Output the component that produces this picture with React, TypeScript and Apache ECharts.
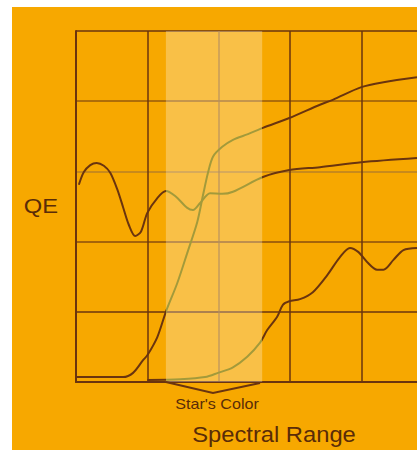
import React, { useEffect, useRef } from "react";
import * as echarts from "echarts";

// Spectral axis (grid units) and QE axis (grid units)
const xMax = 4.78;
const yMax = 5;

// Highlighted "Star's Color" band on the spectral axis
const bandRange: [number, number] = [1.26, 2.61];

// Upper curve
const curveA: [number, number][] = [
  [0, 0.07], [0.66, 0.07], [0.8, 0.13], [0.94, 0.31], [1.0, 0.38], [1.14, 0.64],
  [1.26, 1.0], [1.42, 1.41], [1.56, 1.84], [1.7, 2.28], [1.78, 2.66], [1.85, 2.98],
  [1.92, 3.21], [2.05, 3.35], [2.2, 3.45], [2.41, 3.53], [2.62, 3.62], [2.99, 3.76],
  [3.42, 3.95], [3.6, 4.02], [4.0, 4.2], [4.31, 4.27], [4.78, 4.34],
];

// Middle (wavy) curve
const curveB: [number, number][] = [
  [0.04, 2.81], [0.11, 2.99], [0.2, 3.09], [0.29, 3.12], [0.39, 3.08], [0.48, 2.98],
  [0.58, 2.74], [0.66, 2.49], [0.74, 2.24], [0.83, 2.08], [0.91, 2.14], [1.0, 2.41],
  [1.14, 2.62], [1.26, 2.72], [1.39, 2.65], [1.56, 2.48], [1.64, 2.45], [1.74, 2.55],
  [1.88, 2.69], [2.05, 2.68], [2.2, 2.71], [2.62, 2.92], [2.99, 3.02], [3.42, 3.06],
  [4.0, 3.13], [4.78, 3.19],
];

// Lower curve
const curveC: [number, number][] = [
  [1.0, 0.03], [1.46, 0.04], [1.81, 0.07], [1.99, 0.13], [2.2, 0.21], [2.4, 0.36],
  [2.58, 0.56], [2.68, 0.74], [2.82, 0.93], [2.9, 1.1], [2.99, 1.15], [3.14, 1.18],
  [3.32, 1.28], [3.52, 1.52], [3.7, 1.78], [3.84, 1.91], [3.96, 1.85], [4.08, 1.71],
  [4.22, 1.6], [4.31, 1.6], [4.45, 1.74], [4.59, 1.88], [4.78, 1.91],
];

const yLabel = "QE";
const xLabel = "Spectral Range";
const bandLabel = "Star's Color";

const BG = "#F7A800";
const DARK = "#6A340E";
const TEXT = "#5A2C08";
const IN_BAND = "#A39A3A";

export default function App() {
  const ref = useRef<HTMLDivElement>(null);

  useEffect(() => {
    if (!ref.current) return;
    const chart = echarts.init(ref.current, undefined, { renderer: "svg" });

    const lineSeries = (data: [number, number][], name: string, extra: any = {}) => ({
      type: "line",
      name,
      data,
      showSymbol: false,
      smooth: 0.3,
      lineStyle: { width: 2 },
      z: 3,
      ...extra,
    });

    chart.setOption({
      animation: false,
      backgroundColor: BG,
      grid: { left: 64, top: 24, right: 0, bottom: 68, containLabel: false },
      xAxis: {
        type: "value",
        min: 0,
        max: xMax,
        interval: 1,
        axisLabel: { show: false },
        axisTick: { show: false },
        axisLine: { show: true, lineStyle: { color: DARK, width: 2 } },
        splitLine: {
          show: true,
          showMaxLine: false,
          lineStyle: {
            width: 1.5,
            color: [DARK, DARK, "rgba(150,100,40,0.75)", DARK, DARK],
          },
        },
      },
      yAxis: {
        type: "value",
        min: 0,
        max: yMax,
        interval: 1,
        axisLabel: { show: false },
        axisTick: { show: false },
        axisLine: { show: true, lineStyle: { color: DARK, width: 2 } },
        splitLine: {
          show: true,
          lineStyle: {
            width: 1.5,
            color: [
              DARK,
              DARK,
              "rgba(110,56,16,0.8)",
              "rgba(140,100,60,0.6)",
              "rgba(110,56,16,0.7)",
              DARK,
            ],
          },
        },
      },
      visualMap: {
        show: false,
        type: "piecewise",
        dimension: 0,
        seriesIndex: [0, 1, 2],
        pieces: [
          { lt: bandRange[0], color: DARK },
          { gte: bandRange[0], lte: bandRange[1], color: IN_BAND },
          { gt: bandRange[1], color: DARK },
        ],
      },
      series: [
        lineSeries(curveA, "A", {
          markArea: {
            silent: true,
            itemStyle: { color: "rgba(255,255,255,0.28)" },
            data: [[{ xAxis: bandRange[0] }, { xAxis: bandRange[1] }]],
          },
        }),
        lineSeries(curveB, "B"),
        lineSeries(curveC, "C"),
      ],
    });

    const pL = chart.convertToPixel({ gridIndex: 0 }, [bandRange[0], 0]) as number[];
    const pR = chart.convertToPixel({ gridIndex: 0 }, [bandRange[1] - 0.03, 0]) as number[];
    const midX = (pL[0] + pR[0]) / 2;

    chart.setOption({
      graphic: [
        {
          type: "polyline",
          shape: { points: [[pL[0], pL[1]], [midX, pL[1] + 11], [pR[0], pR[1] + 1]] },
          style: { stroke: DARK, lineWidth: 2, fill: null },
          z: 10,
        },
        {
          type: "text",
          x: 29,
          y: 199,
          scaleX: 1.13,
          style: {
            text: yLabel,
            fill: TEXT,
            font: '21px "Liberation Sans", Arial, sans-serif',
            textAlign: "center",
            textVerticalAlign: "middle",
          },
        },
        {
          type: "text",
          x: 205,
          y: 397,
          scaleX: 1.15,
          style: {
            text: bandLabel,
            fill: TEXT,
            font: '14px "Liberation Sans", Arial, sans-serif',
            textAlign: "center",
            textVerticalAlign: "middle",
          },
        },
        {
          type: "text",
          x: 262,
          y: 427,
          scaleX: 1.08,
          style: {
            text: xLabel,
            fill: TEXT,
            font: '22px "Liberation Sans", Arial, sans-serif',
            textAlign: "center",
            textVerticalAlign: "middle",
          },
        },
      ],
    });

    return () => chart.dispose();
  }, []);

  return (
    <div
      ref={ref}
      style={{
        position: "absolute",
        left: 12,
        top: 7,
        width: 405,
        height: 443,
        background: BG,
      }}
    />
  );
}
